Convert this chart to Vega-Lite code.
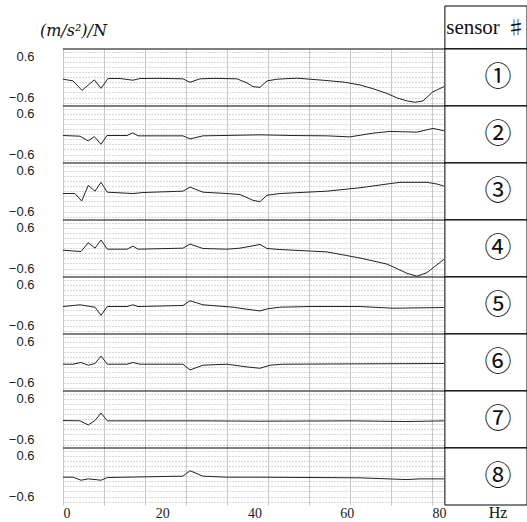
{
  "$schema": "https://vega.github.io/schema/vega-lite/v6.json",
  "padding": {"left": 5, "top": 5, "right": 0, "bottom": 0},
  "config": {"view": {"stroke": null}, "axis": {"labelColor": "#222"}},
  "spacing": 0,
  "bounds": "flush",
  "vconcat": [
    {
      "width": 464,
      "height": 43,
      "data": {"values": [{}]},
      "layer": [
        {
          "mark": {"type": "rect", "fill": "#fff", "stroke": "#000", "strokeWidth": 1},
          "encoding": {
            "x": {"datum": 82.8, "type": "quantitative", "scale": {"domain": [0, 100.6], "nice": false, "zero": false}, "axis": null},
            "x2": {"datum": 100.6},
            "y": {"datum": 0, "type": "quantitative", "scale": {"domain": [0, 1], "nice": false, "zero": false},
                  "axis": {"labels": false, "ticks": false, "domain": false, "grid": false, "minExtent": 58, "maxExtent": 58, "title": null}},
            "y2": {"datum": 1}
          }
        },
        {
          "mark": {"type": "text", "font": "Liberation Serif", "fontSize": 21, "color": "#111"},
          "encoding": {
            "x": {"datum": 88.9, "type": "quantitative"},
            "y": {"datum": 0.48, "type": "quantitative"},
            "text": {"value": "sensor"}
          }
        },
        {
          "mark": {"type": "text", "font": "Noto Sans CJK JP", "fontSize": 19, "color": "#111"},
          "encoding": {
            "x": {"datum": 98.2, "type": "quantitative"},
            "y": {"datum": 0.46, "type": "quantitative"},
            "text": {"value": "♯"}
          }
        },
        {
          "mark": {"type": "text", "font": "DejaVu Serif", "fontStyle": "italic", "fontSize": 16, "align": "left", "color": "#111"},
          "encoding": {
            "x": {"datum": -5, "type": "quantitative"},
            "y": {"datum": 0.42, "type": "quantitative"},
            "text": {"value": "(m/s²)/N"}
          }
        }
      ]
    },
    {
      "data": {"values": [
        {"s":"①","f":0,"v":-0.06},{"s":"①","f":2.17,"v":-0.11},{"s":"①","f":4.12,"v":-0.39},{"s":"①","f":6.79,"v":-0.08},{"s":"①","f":8.24,"v":-0.33},{"s":"①","f":9.75,"v":-0.04},{"s":"①","f":12.36,"v":-0.04},{"s":"①","f":15.17,"v":-0.09},{"s":"①","f":16.69,"v":-0.04},{"s":"①","f":21.03,"v":-0.035},{"s":"①","f":26.01,"v":-0.05},{"s":"①","f":27.53,"v":-0.15},{"s":"①","f":29.7,"v":-0.05},{"s":"①","f":32.95,"v":-0.035},{"s":"①","f":37.72,"v":-0.05},{"s":"①","f":39.89,"v":-0.17},{"s":"①","f":41.19,"v":-0.28},{"s":"①","f":42.71,"v":-0.3},{"s":"①","f":44.23,"v":-0.11},{"s":"①","f":46.39,"v":-0.06},{"s":"①","f":50.73,"v":-0.03},{"s":"①","f":57.23,"v":-0.1},{"s":"①","f":61.1,"v":-0.15},{"s":"①","f":64.38,"v":-0.23},{"s":"①","f":67.2,"v":-0.34},{"s":"①","f":70.24,"v":-0.48},{"s":"①","f":72.4,"v":-0.61},{"s":"①","f":74.57,"v":-0.7},{"s":"①","f":76.31,"v":-0.74},{"s":"①","f":78.04,"v":-0.7},{"s":"①","f":80.21,"v":-0.43},{"s":"①","f":82.59,"v":-0.28},
        {"s":"②","f":0,"v":-0.04},{"s":"②","f":3.69,"v":-0.06},{"s":"②","f":5.48,"v":-0.2},{"s":"②","f":6.79,"v":-0.07},{"s":"②","f":8.24,"v":-0.3},{"s":"②","f":9.54,"v":-0.04},{"s":"②","f":13.87,"v":-0.04},{"s":"②","f":15.17,"v":0.04},{"s":"②","f":16.26,"v":-0.05},{"s":"②","f":26.01,"v":-0.05},{"s":"②","f":27.53,"v":-0.14},{"s":"②","f":30.35,"v":-0.05},{"s":"②","f":42.71,"v":-0.02},{"s":"②","f":49.86,"v":-0.04},{"s":"②","f":57.23,"v":-0.05},{"s":"②","f":62.21,"v":-0.08},{"s":"②","f":67.2,"v":0.03},{"s":"②","f":70.89,"v":0.08},{"s":"②","f":76.74,"v":0.06},{"s":"②","f":80.21,"v":0.17},{"s":"②","f":82.59,"v":0.1},
        {"s":"③","f":0,"v":-0.07},{"s":"③","f":2.6,"v":-0.07},{"s":"③","f":4.05,"v":-0.29},{"s":"③","f":5.48,"v":0.17},{"s":"③","f":6.94,"v":0.0},{"s":"③","f":8.24,"v":0.26},{"s":"③","f":9.6,"v":-0.03},{"s":"③","f":15.17,"v":-0.07},{"s":"③","f":17.34,"v":-0.04},{"s":"③","f":26.01,"v":0.0},{"s":"③","f":27.53,"v":0.12},{"s":"③","f":30.35,"v":-0.03},{"s":"③","f":35.55,"v":-0.07},{"s":"③","f":38.37,"v":-0.1},{"s":"③","f":41.19,"v":-0.27},{"s":"③","f":42.71,"v":-0.31},{"s":"③","f":44.23,"v":-0.12},{"s":"③","f":47.04,"v":-0.07},{"s":"③","f":57.23,"v":0.0},{"s":"③","f":64.38,"v":0.1},{"s":"③","f":70.24,"v":0.21},{"s":"③","f":73.05,"v":0.26},{"s":"③","f":78.91,"v":0.26},{"s":"③","f":81.08,"v":0.21},{"s":"③","f":82.59,"v":0.15},
        {"s":"④","f":0,"v":-0.06},{"s":"④","f":3.9,"v":-0.1},{"s":"④","f":5.48,"v":0.16},{"s":"④","f":6.94,"v":0.0},{"s":"④","f":8.24,"v":0.24},{"s":"④","f":9.6,"v":-0.03},{"s":"④","f":13.87,"v":-0.03},{"s":"④","f":15.17,"v":0.06},{"s":"④","f":16.26,"v":-0.03},{"s":"④","f":26.01,"v":0.0},{"s":"④","f":27.53,"v":0.12},{"s":"④","f":30.35,"v":-0.01},{"s":"④","f":35.55,"v":-0.03},{"s":"④","f":38.37,"v":0.0},{"s":"④","f":41.19,"v":0.07},{"s":"④","f":42.71,"v":0.11},{"s":"④","f":44.23,"v":-0.01},{"s":"④","f":47.04,"v":-0.04},{"s":"④","f":57.23,"v":-0.11},{"s":"④","f":64.38,"v":-0.29},{"s":"④","f":70.24,"v":-0.47},{"s":"④","f":74.57,"v":-0.74},{"s":"④","f":76.74,"v":-0.83},{"s":"④","f":78.91,"v":-0.72},{"s":"④","f":82.59,"v":-0.33},
        {"s":"⑤","f":0,"v":-0.04},{"s":"⑤","f":3.69,"v":0.01},{"s":"⑤","f":5.48,"v":-0.03},{"s":"⑤","f":6.94,"v":-0.06},{"s":"⑤","f":8.24,"v":-0.3},{"s":"⑤","f":9.6,"v":-0.04},{"s":"⑤","f":13.87,"v":-0.04},{"s":"⑤","f":15.17,"v":0.01},{"s":"⑤","f":16.26,"v":-0.04},{"s":"⑤","f":26.01,"v":-0.01},{"s":"⑤","f":27.53,"v":0.13},{"s":"⑤","f":30.35,"v":0.01},{"s":"⑤","f":36.85,"v":-0.06},{"s":"⑤","f":39.89,"v":-0.12},{"s":"⑤","f":42.71,"v":-0.17},{"s":"⑤","f":44.23,"v":-0.11},{"s":"⑤","f":47.04,"v":-0.06},{"s":"⑤","f":53.54,"v":-0.04},{"s":"⑤","f":64.38,"v":-0.04},{"s":"⑤","f":71.54,"v":-0.09},{"s":"⑤","f":82.59,"v":-0.07},
        {"s":"⑥","f":0,"v":-0.06},{"s":"⑥","f":2.17,"v":-0.06},{"s":"⑥","f":3.9,"v":-0.01},{"s":"⑥","f":5.48,"v":-0.09},{"s":"⑥","f":6.94,"v":-0.04},{"s":"⑥","f":8.24,"v":0.18},{"s":"⑥","f":9.6,"v":-0.06},{"s":"⑥","f":13.87,"v":-0.06},{"s":"⑥","f":15.17,"v":-0.01},{"s":"⑥","f":16.69,"v":-0.06},{"s":"⑥","f":26.01,"v":-0.06},{"s":"⑥","f":27.53,"v":-0.23},{"s":"⑥","f":30.35,"v":-0.09},{"s":"⑥","f":35.55,"v":-0.06},{"s":"⑥","f":39.89,"v":-0.14},{"s":"⑥","f":42.71,"v":-0.18},{"s":"⑥","f":44.87,"v":-0.09},{"s":"⑥","f":47.69,"v":-0.06},{"s":"⑥","f":65,"v":-0.05},{"s":"⑥","f":82.59,"v":-0.04},
        {"s":"⑦","f":0,"v":-0.04},{"s":"⑦","f":3.69,"v":-0.05},{"s":"⑦","f":5.48,"v":-0.17},{"s":"⑦","f":6.94,"v":-0.04},{"s":"⑦","f":8.24,"v":0.18},{"s":"⑦","f":9.6,"v":-0.05},{"s":"⑦","f":29.7,"v":-0.05},{"s":"⑦","f":42.71,"v":-0.06},{"s":"⑦","f":62.87,"v":-0.05},{"s":"⑦","f":74.57,"v":-0.07},{"s":"⑦","f":82.59,"v":-0.05},
        {"s":"⑧","f":0,"v":-0.03},{"s":"⑧","f":2.17,"v":-0.03},{"s":"⑧","f":3.9,"v":-0.12},{"s":"⑧","f":5.48,"v":-0.08},{"s":"⑧","f":6.94,"v":-0.1},{"s":"⑧","f":8.24,"v":-0.12},{"s":"⑧","f":9.6,"v":-0.04},{"s":"⑧","f":26.01,"v":0.0},{"s":"⑧","f":27.53,"v":0.16},{"s":"⑧","f":30.35,"v":0.0},{"s":"⑧","f":35.55,"v":-0.03},{"s":"⑧","f":42.71,"v":-0.03},{"s":"⑧","f":64.38,"v":-0.05},{"s":"⑧","f":74.57,"v":-0.1},{"s":"⑧","f":77.39,"v":-0.08},{"s":"⑧","f":82.59,"v":-0.08}
      ]},
      "facet": {"row": {"field": "s", "type": "nominal", "header": null}},
      "spacing": {"row": 0},
      "bounds": "flush",
      "spec": {
        "width": 464,
        "height": 57,
        "resolve": {"axis": {"x": "independent", "y": "independent"}},
        "layer": [
          {
            "mark": {"type": "rule", "color": "#000", "strokeWidth": 1.2},
            "transform": [{"filter": "datum.f == 0"}],
            "encoding": {
              "x": {"datum": 0, "type": "quantitative",
                    "axis": {"orient": "top", "values": [0, 8.889, 17.778, 26.667, 35.556, 44.444, 53.333, 62.222, 71.111, 80],
                             "labels": false, "ticks": false, "domain": false, "grid": true, "gridColor": "#c8c8c8", "gridWidth": 1,
                             "title": null, "minExtent": 0, "maxExtent": 0}},
              "x2": {"datum": 100.6},
              "y": {"datum": 0.83, "type": "quantitative",
                    "axis": {"orient": "right", "values": [-0.75, -0.6, -0.45, -0.3, -0.15, 0, 0.15, 0.3, 0.45, 0.6, 0.75],
                             "labels": false, "ticks": false, "domain": false, "grid": true, "gridColor": "#b0b0b0", "gridDash": [1, 2], "gridWidth": 1,
                             "title": null, "minExtent": 0, "maxExtent": 0}}
            }
          },
          {
            "mark": {"type": "line", "stroke": "#222", "strokeWidth": 1},
            "encoding": {
              "x": {"field": "f", "type": "quantitative", "title": "Hz",
                    "scale": {"domain": [0, 100.6], "nice": false, "zero": false},
                    "axis": {"orient": "bottom", "values": [0, 20, 40, 60, 80], "format": "d", "grid": false,
                             "ticks": false, "domain": false, "labelAlign": "left", "labelPadding": 1, "labelOverlap": false, "labelFlush": false,
                             "labelFont": "Liberation Serif", "labelFontSize": 14,
                             "title": "Hz", "titleX": 434.5, "titleY": 7, "titleBaseline": "middle", "titleAlign": "center",
                             "titleFont": "Liberation Serif", "titleFontSize": 16, "titleFontWeight": "normal", "titleColor": "#111"}},
              "y": {"field": "v", "type": "quantitative", "title": null,
                    "scale": {"domain": [-0.85, 0.83], "nice": false, "zero": false},
                    "axis": {"orient": "left", "values": [-0.6, 0.6], "format": ".1f", "grid": false,
                             "ticks": false, "domain": false, "labelPadding": 29, "labelOverlap": false,
                             "minExtent": 58, "maxExtent": 58, "labelFont": "Liberation Sans", "labelFontSize": 13}}
            }
          },
          {
            "mark": {"type": "rect", "fill": "#fff", "stroke": "#000", "strokeWidth": 1},
            "transform": [{"filter": "datum.f == 0"}],
            "encoding": {
              "x": {"datum": 82.8, "type": "quantitative", "axis": null},
              "x2": {"datum": 100.6},
              "y": {"datum": -0.85, "type": "quantitative", "axis": null},
              "y2": {"datum": 0.83}
            }
          },
          {
            "mark": {"type": "text", "font": "Noto Sans CJK JP", "fontSize": 27, "color": "#111"},
            "transform": [{"filter": "datum.f == 0"}],
            "encoding": {
              "x": {"datum": 94.3, "type": "quantitative", "axis": null},
              "y": {"datum": -0.03, "type": "quantitative", "axis": null},
              "text": {"field": "s"}
            }
          }
        ]
      }
    }
  ]
}
